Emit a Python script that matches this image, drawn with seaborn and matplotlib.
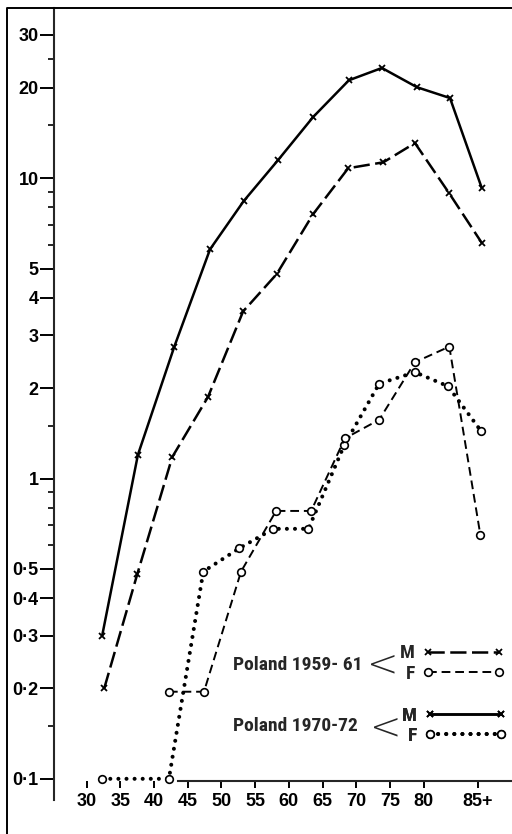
import matplotlib
matplotlib.use('Agg')
import matplotlib.pyplot as plt
from matplotlib.lines import Line2D
from matplotlib.ticker import NullFormatter, NullLocator
import seaborn as sns

# Age positions and rates (85+ group plotted at ~88)
m7072_age = [32.3, 37.6, 43.0, 48.3, 53.3, 58.4, 63.6, 68.9, 73.8, 79.0, 83.9, 88.6]
m7072_rate = [0.30, 1.20, 2.75, 5.8, 8.4, 11.5, 16.0, 21.2, 23.3, 20.1, 18.5, 9.3]

m5961_age = [32.6, 37.5, 42.7, 48.0, 53.2, 58.2, 63.6, 68.8, 74.0, 78.7, 83.8, 88.6]
m5961_rate = [0.20, 0.48, 1.18, 1.87, 3.6, 4.8, 7.6, 10.8, 11.3, 13.1, 8.9, 6.1]

f5961_age = [42.2, 47.4, 52.9, 58.1, 63.3, 68.3, 73.4, 78.7, 83.8, 88.4]
f5961_rate = [0.195, 0.195, 0.49, 0.78, 0.78, 1.36, 1.57, 2.44, 2.75, 0.65]

f7072_age = [32.3, 42.2, 47.3, 52.6, 57.7, 62.9, 68.2, 73.4, 78.7, 83.6, 88.5]
f7072_rate = [0.10, 0.10, 0.49, 0.585, 0.68, 0.68, 1.29, 2.07, 2.26, 2.03, 1.44]

x_ticks = [30, 35, 40, 45, 50, 55, 60, 65, 70, 75, 80, 88]
x_labels = ['30', '35', '40', '45', '50', '55', '60', '65', '70', '75', '80', '85+']
y_ticks = [0.1, 0.2, 0.3, 0.4, 0.5, 1, 2, 3, 4, 5, 10, 20, 30]
y_labels = ['0·1', '0·2', '0·3', '0·4', '0·5', '1', '2', '3', '4', '5', '10', '20', '30']
y_minor = [0.15, 0.6, 0.7, 0.8, 0.9, 1.5, 6, 7, 8, 9, 15, 25]

sns.set_style('ticks')
plt.rcParams['font.family'] = ['Liberation Sans', 'DejaVu Sans']
plt.rcParams['font.weight'] = 'bold'
narrow = ['Roboto Condensed', 'Liberation Sans']

fig = plt.figure(figsize=(5.12, 8.34), dpi=100)
ax = fig.add_axes([54 / 512, 1 - 800 / 834, 1 - 54 / 512, 792 / 834])

# styles
st_m59 = dict(color='black', lw=1.8, linestyle=(0, (6.5, 2.2)), marker='x', ms=5, mew=1.3,
              mec='black')
st_f59 = dict(color='black', lw=1.4, linestyle=(0, (4.5, 2.5)), marker='o', ms=5.5, mew=1.2,
              mfc='white', mec='black')
st_m70 = dict(color='black', lw=1.8, linestyle='-', marker='x', ms=5, mew=1.3, mec='black')
st_f70 = dict(color='black', lw=2.9, linestyle=(0, (0.01, 2.0)), dash_capstyle='round',
              marker='o', ms=5.5, mew=1.2, mfc='white', mec='black')

sns.lineplot(x=m5961_age, y=m5961_rate, ax=ax, sort=False, estimator=None, **st_m59)
sns.lineplot(x=f7072_age, y=f7072_rate, ax=ax, sort=False, estimator=None, **st_f70)
sns.lineplot(x=f5961_age, y=f5961_rate, ax=ax, sort=False, estimator=None, **st_f59)
sns.lineplot(x=m7072_age, y=m7072_rate, ax=ax, sort=False, estimator=None, **st_m70)

ax.set_yscale('log')
ax.set_ylim(0.085, 36.9)
ax.set_xlim(25.15, 93.1)

ax.set_yticks(y_ticks, y_labels)
ax.set_yticks(y_minor, minor=True)
ax.yaxis.set_minor_formatter(NullFormatter())
ax.set_xticks(x_ticks, x_labels)
ax.xaxis.set_minor_locator(NullLocator())

ax.spines['top'].set_visible(False)
ax.spines['right'].set_visible(False)
ax.spines['left'].set_linewidth(1.5)
ax.spines['bottom'].set_linewidth(1.5)
ax.spines['bottom'].set_position(('data', 0.098))
ax.spines['bottom'].set_bounds(43.6, 93.1)

ax.tick_params(axis='y', which='major', length=10, width=1.4, pad=1, labelsize=13, colors='black')
ax.tick_params(axis='y', which='minor', length=4.5, width=1.4)
ax.tick_params(axis='x', which='major', length=5, width=1.4, pad=3.5, labelsize=13, colors='black')
for lab in ax.get_xticklabels() + ax.get_yticklabels():
    lab.set_fontweight('bold')
ax.set_xlabel('')
ax.set_ylabel('')

# legends (label then sample line, markers at both ends)
def group_legend(handles, x, y):
    leg = ax.legend(handles, ['M', 'F'], loc='center left', bbox_to_anchor=(x, y),
                    frameon=False, markerfirst=False, numpoints=2, handlelength=4.3,
                    handletextpad=0.35, labelspacing=0.12, borderpad=0, borderaxespad=0,
                    prop={'family': narrow, 'weight': 'bold', 'size': 14})
    ax.add_artist(leg)
    return leg

group_legend([Line2D([], [], **st_m59), Line2D([], [], **st_f59)], 0.7555, 0.1723)
group_legend([Line2D([], [], **st_m70), Line2D([], [], **st_f70)], 0.7598, 0.0934)

ax.text(0.3908, 0.1705, 'Poland 1959- 61', transform=ax.transAxes, ha='left', va='center',
        family=narrow, fontweight='bold', fontsize=14)
ax.text(0.3908, 0.0934, 'Poland 1970-72', transform=ax.transAxes, ha='left', va='center',
        family=narrow, fontweight='bold', fontsize=14)
ax.text(0.7183, 0.1690, '<', transform=ax.transAxes, ha='center', va='center',
        family=['DejaVu Sans'], fontweight=200, fontsize=27)
ax.text(0.7249, 0.0895, '<', transform=ax.transAxes, ha='center', va='center',
        family=['DejaVu Sans'], fontweight=200, fontsize=27)

# outer frame of the original figure
fig.add_artist(Line2D([7 / 512, 7 / 512, 1], [0, 1 - 8 / 834, 1 - 8 / 834],
                      transform=fig.transFigure, color='black', lw=1.4))

fig.savefig('out.png', dpi=100)
